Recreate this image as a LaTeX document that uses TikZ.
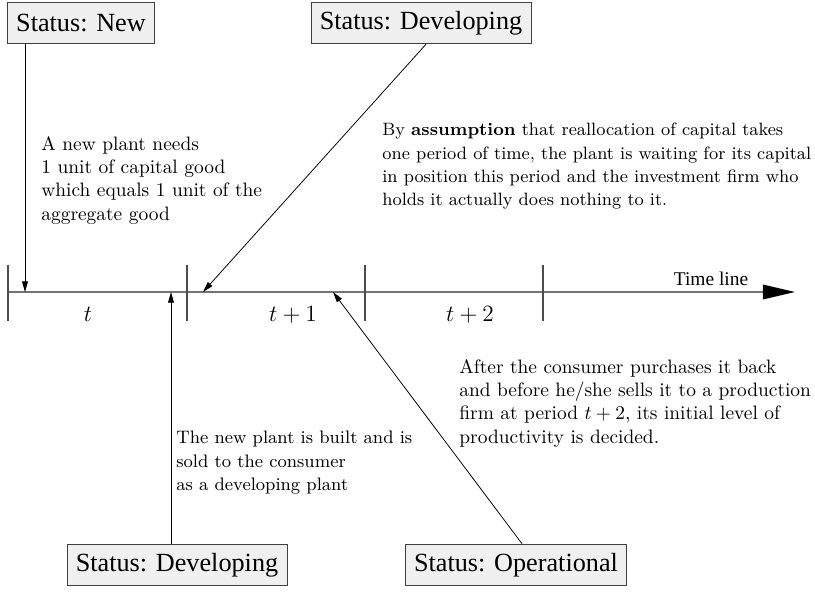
\documentclass[tikz,border=0pt]{standalone}
\usepackage{fontspec}
\newfontfamily\boxfont{Liberation Serif}
\usepackage{tikz}
\usetikzlibrary{arrows.meta, positioning, calc}

\begin{document}
\begin{tikzpicture}[
        x=0.515pt, y=-0.515pt,
        status/.style={rectangle, draw=black!75, fill=black!6, font=\boxfont\fontsize{13.5}{16}\selectfont, inner xsep=4.5pt, minimum height=21.5pt},
        note/.style={anchor=north west, align=left, inner sep=0pt},
        arrow/.style={-{Triangle[length=5.5pt, width=3pt]}, thin},
        timeline/.style={draw=black!55, line width=0.8pt, -{Triangle[length=16.5pt, width=7.5pt, color=black]}},
        tick/.style={draw=black!70, line width=0.6pt}
    ]
        \useasboundingbox (0,0) rectangle (815,592);

        % time line and periods
        \coordinate (t0) at (8,292);
        \coordinate (tend) at (795,292);
        \draw[timeline] (t0) -- (tend);
        \foreach \x in {8,187,365,543}
            \draw[tick] (\x,265) -- (\x,321);
        \node[anchor=base, font=\large] (pt) at (88,322) {$t$};
        \node[anchor=base, font=\large] (pt1) at (293,322) {$t+1$};
        \node[anchor=base, font=\large] (pt2) at (470,322) {$t+2$};
        \node[anchor=base, font=\boxfont\fontsize{10}{12}\selectfont] (tl) at (711,286) {Time line};

        % points on the time line
        \coordinate (hitnew) at (25,292);
        \coordinate (hitdev) at (203,292);
        \coordinate (hitbuilt) at (171,292);
        \coordinate (hitop) at (333,292);

        % status boxes
        \node[status] (new) at (81,23) {Status: New};
        \node[status] (devtop) at (421,23) {Status: Developing};
        \node[status] (devbot) at (177,565) {Status: Developing};
        \node[status] (oper) at (516,565) {Status: Operational};

        % notes
        \node[note] (n1) at (41,136) {A new plant needs\\1 unit of capital good\\which equals 1 unit of the\\aggregate good};
        \node[note, font=\fontsize{9.2}{11.9}\selectfont] (n2) at (382,123) {By \textbf{assumption} that reallocation of capital takes\\one period of time, the plant is waiting for its capital\\in position this period and the investment firm who\\holds it actually does nothing to it.};
        \node[note] (n3) at (459,359) {After the consumer purchases it back\\and before he/she sells it to a production\\firm at period $t+2$, its initial level of\\productivity is decided.};
        \node[note, font=\fontsize{9.3}{11.9}\selectfont] (n4) at (176,431) {The new plant is built and is\\sold to the consumer\\as a developing plant};

        \draw[arrow] (new.south -| hitnew) -- (hitnew);
        \draw[arrow] ($(devtop.south)+(5,0)$) -- (hitdev);
        \draw[arrow] (devbot.north -| hitbuilt) -- (hitbuilt);
        \draw[arrow] ($(oper.north)+(6,0)$) -- (hitop);
    \end{tikzpicture}
\end{document}
